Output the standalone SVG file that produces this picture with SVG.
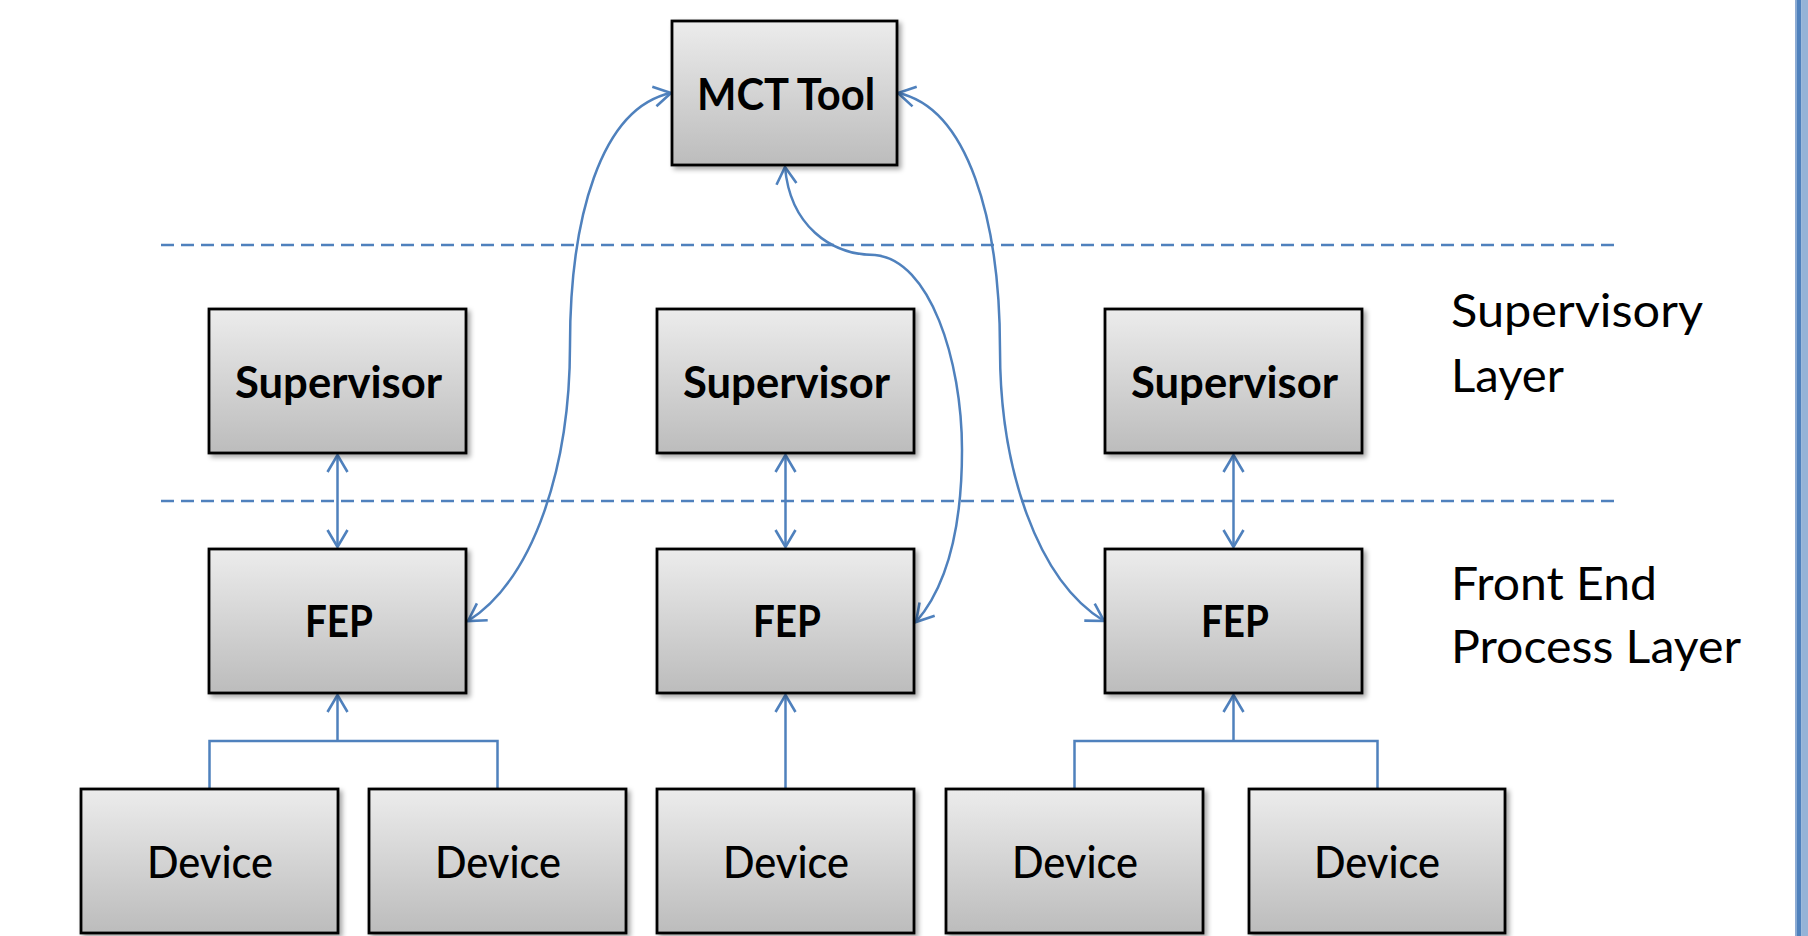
<svg xmlns="http://www.w3.org/2000/svg" width="1808" height="936" viewBox="0 0 1808 936">
<defs>
<linearGradient id="gFill" x1="0" y1="0" x2="0" y2="1">
<stop offset="0" stop-color="#ececec"/>
<stop offset="1" stop-color="#bcbcbc"/>
</linearGradient>
<filter id="shadow" x="-10%" y="-10%" width="125%" height="130%">
<feDropShadow dx="3" dy="3" stdDeviation="2.5" flood-color="#000" flood-opacity="0.35"/>
</filter>
<marker id="arr" viewBox="-20 -12 24 24" refX="0" refY="0" markerWidth="24" markerHeight="24" markerUnits="userSpaceOnUse" orient="auto-start-reverse">
<path d="M-17,-10 L0,0 L-17,10" fill="none" stroke="#4f81bd" stroke-width="2.6"/>
</marker>
<style>
.box{fill:url(#gFill);stroke:#000;stroke-width:2.8;filter:url(#shadow);}
.lbl{font-family:Lato,"Open Sans","Liberation Sans",sans-serif;font-weight:bold;font-size:44px;fill:#000;text-anchor:middle;}
.dev{font-family:Lato,"Open Sans","Liberation Sans",sans-serif;font-weight:500;font-size:44px;fill:#000;text-anchor:middle;}
.layer{font-family:Lato,"Open Sans","Liberation Sans",sans-serif;font-size:46px;fill:#000;}
.con{fill:none;stroke:#4f81bd;stroke-width:2.5;}
.dash{fill:none;stroke:#4f81bd;stroke-width:2.5;stroke-dasharray:13 7;}
</style>
</defs>
<rect x="0" y="0" width="1808" height="936" fill="#ffffff"/>
<g id="edge-bar">
<rect x="1795" y="0" width="1.5" height="936" fill="#8eabd3"/>
<rect x="1796.5" y="0" width="5" height="936" fill="#4f81bd"/>
<rect x="1801.5" y="0" width="6.5" height="936" fill="#95b3d7"/>
</g>
<g id="layer-lines">
<line class="dash" x1="161" y1="245" x2="1618" y2="245"/>
<line class="dash" x1="161" y1="501" x2="1618" y2="501"/>
</g>
<g id="layer-labels">
<text class="layer" x="1451" y="327" textLength="252" lengthAdjust="spacingAndGlyphs">Supervisory</text>
<text class="layer" x="1451" y="392" textLength="113" lengthAdjust="spacingAndGlyphs">Layer</text>
<text class="layer" x="1451" y="600" textLength="206" lengthAdjust="spacingAndGlyphs">Front End</text>
<text class="layer" x="1451" y="663" textLength="290" lengthAdjust="spacingAndGlyphs">Process Layer</text>
</g>
<g id="connectors">
<line class="con" x1="337.5" y1="455" x2="337.5" y2="547" marker-start="url(#arr)" marker-end="url(#arr)"/>
<line class="con" x1="785.5" y1="455" x2="785.5" y2="547" marker-start="url(#arr)" marker-end="url(#arr)"/>
<line class="con" x1="1233.5" y1="455" x2="1233.5" y2="547" marker-start="url(#arr)" marker-end="url(#arr)"/>
<polyline class="con" points="209.5,788 209.5,741 497.5,741 497.5,788"/>
<line class="con" x1="337.5" y1="741" x2="337.5" y2="695" marker-end="url(#arr)"/>
<line class="con" x1="785.5" y1="788" x2="785.5" y2="695" marker-end="url(#arr)"/>
<polyline class="con" points="1074.5,788 1074.5,741 1377.5,741 1377.5,788"/>
<line class="con" x1="1233.5" y1="741" x2="1233.5" y2="695" marker-end="url(#arr)"/>
<path class="con" d="M671,93 C600,108 570,220 570,345 C570,465 535,578 468,621" marker-start="url(#arr)" marker-end="url(#arr)"/>
<path class="con" d="M785,167 C790,225 830,255 875,255 C930,260 962,360 962,450 C962,540 942,592 916,622" marker-start="url(#arr)" marker-end="url(#arr)"/>
<path class="con" d="M898,93 C968,108 1000,220 1000,350 C1000,468 1037,580 1104,621" marker-start="url(#arr)" marker-end="url(#arr)"/>
</g>
<g id="mct">
<rect class="box" x="672" y="21" width="225" height="144"/>
<text class="lbl" x="786" y="110" textLength="178" lengthAdjust="spacingAndGlyphs">MCT Tool</text>
</g>
<g id="supervisor1">
<rect class="box" x="209" y="309" width="257" height="144"/>
<text class="lbl" x="338.5" y="398" textLength="207" lengthAdjust="spacingAndGlyphs">Supervisor</text>
</g>
<g id="supervisor2">
<rect class="box" x="657" y="309" width="257" height="144"/>
<text class="lbl" x="786.5" y="398" textLength="207" lengthAdjust="spacingAndGlyphs">Supervisor</text>
</g>
<g id="supervisor3">
<rect class="box" x="1105" y="309" width="257" height="144"/>
<text class="lbl" x="1234.5" y="398" textLength="207" lengthAdjust="spacingAndGlyphs">Supervisor</text>
</g>
<g id="fep1">
<rect class="box" x="209" y="549" width="257" height="144"/>
<text class="lbl" x="339" y="637" textLength="68" lengthAdjust="spacingAndGlyphs">FEP</text>
</g>
<g id="fep2">
<rect class="box" x="657" y="549" width="257" height="144"/>
<text class="lbl" x="787" y="637" textLength="68" lengthAdjust="spacingAndGlyphs">FEP</text>
</g>
<g id="fep3">
<rect class="box" x="1105" y="549" width="257" height="144"/>
<text class="lbl" x="1235" y="637" textLength="68" lengthAdjust="spacingAndGlyphs">FEP</text>
</g>
<g id="device1">
<rect class="box" x="81" y="789" width="257" height="144"/>
<text class="dev" x="210" y="878" textLength="126" lengthAdjust="spacingAndGlyphs">Device</text>
</g>
<g id="device2">
<rect class="box" x="369" y="789" width="257" height="144"/>
<text class="dev" x="498" y="878" textLength="126" lengthAdjust="spacingAndGlyphs">Device</text>
</g>
<g id="device3">
<rect class="box" x="657" y="789" width="257" height="144"/>
<text class="dev" x="786" y="878" textLength="126" lengthAdjust="spacingAndGlyphs">Device</text>
</g>
<g id="device4">
<rect class="box" x="946" y="789" width="257" height="144"/>
<text class="dev" x="1075" y="878" textLength="126" lengthAdjust="spacingAndGlyphs">Device</text>
</g>
<g id="device5">
<rect class="box" x="1249" y="789" width="256" height="144"/>
<text class="dev" x="1377" y="878" textLength="126" lengthAdjust="spacingAndGlyphs">Device</text>
</g>
</svg>
